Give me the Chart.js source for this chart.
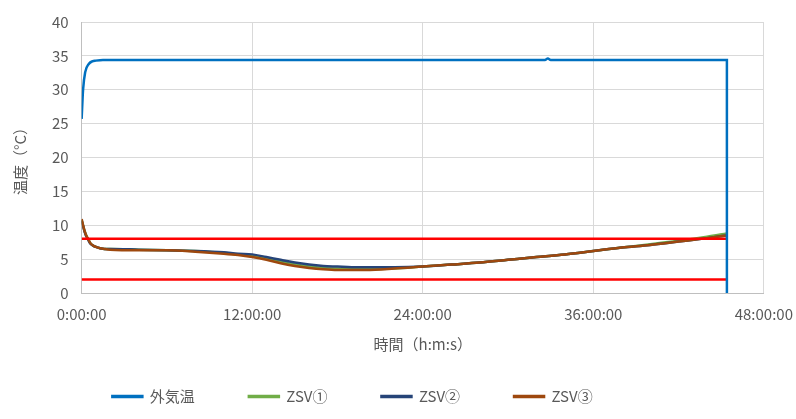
<!DOCTYPE html>
<html>
<head>
<meta charset="utf-8">
<script src="https://cdn.jsdelivr.net/npm/chart.js@4"></script>
<style>
  body { margin: 0; background: #fff; }
  #wrap { width: 796px; height: 419px; }
</style>
</head>
<body>
<div id="wrap"><canvas id="tempChart"></canvas></div>
<script>
// elapsed time in hours
const outsideHours = [0, 0.1, 0.25, 0.5, 0.75, 1, 1.5, 2, 3, 10, 20, 30, 32.6, 32.8, 33.0, 40, 45.4, 45.4];
const outsideTemp  = [25.7, 30.0, 32.6, 33.8, 34.2, 34.3, 34.4, 34.4, 34.4, 34.4, 34.4, 34.4, 34.4, 34.6, 34.4, 34.4, 34.4, 0];

const zsvHours = [0, 0.1, 0.2, 0.3, 0.45, 0.6, 0.8, 1.0, 1.3, 1.6, 2, 4, 6, 8, 10, 11, 12, 13, 14, 15, 16, 17, 18, 19, 20, 22, 24, 26, 28, 30, 32, 34, 36, 38, 40, 42, 44, 45.4];
const zsv1 = [10.8, 10.0, 9.2, 8.6, 8.0, 7.4, 7.0, 6.8, 6.6, 6.5, 6.5, 6.4, 6.3, 6.2, 5.9, 5.7, 5.5, 5.1, 4.6, 4.2, 3.9, 3.7, 3.6, 3.5, 3.5, 3.6, 3.9, 4.2, 4.5, 4.9, 5.3, 5.7, 6.2, 6.7, 7.2, 7.7, 8.3, 8.8];
const zsv2 = [10.7, 9.9, 9.1, 8.5, 7.9, 7.3, 7.0, 6.8, 6.6, 6.5, 6.5, 6.4, 6.3, 6.2, 6.0, 5.8, 5.7, 5.3, 4.9, 4.5, 4.2, 4.0, 3.9, 3.8, 3.8, 3.8, 3.9, 4.2, 4.5, 4.9, 5.3, 5.7, 6.2, 6.7, 7.1, 7.6, 8.1, 8.5];
const zsv3 = [10.9, 10.0, 9.2, 8.6, 8.0, 7.4, 7.0, 6.8, 6.6, 6.5, 6.4, 6.3, 6.3, 6.1, 5.8, 5.6, 5.3, 4.9, 4.4, 4.0, 3.7, 3.5, 3.4, 3.4, 3.4, 3.6, 3.9, 4.2, 4.5, 4.9, 5.3, 5.7, 6.2, 6.7, 7.1, 7.6, 8.1, 8.5];

const limitHours = [0, 45.4];
const upperLimit = [8, 8];
const lowerLimit = [2, 2];

const xTicks = ['0:00:00', '12:00:00', '24:00:00', '36:00:00', '48:00:00'];

function pts(xs, ys) {
  return xs.map((x, i) => ({ x: x, y: ys[i] }));
}

const tickColor = '#595959';
const jpFont = '"Noto Sans CJK JP", "Noto Sans", sans-serif';

// legend sits a bit left of centre in the original, and its wide item
// spacing should not eat the room under the x axis
const legendPlace = {
  id: 'legendPlace',
  afterLayout(chart) {
    const lg = chart.legend;
    lg.top = 389 - lg.options.labels.padding;
    lg.right -= 94;
    lg.width = lg.right - lg.left;
  }
};

const tempChart = new Chart(document.getElementById('tempChart'), {
  type: 'line',
  data: {
    datasets: [
      // lower order is drawn on top
      { label: '外気温', data: pts(outsideHours, outsideTemp), borderColor: '#0070C0', backgroundColor: '#0070C0', borderWidth: 2.5, order: 0 },
      { label: 'ZSV①', data: pts(zsvHours, zsv1), borderColor: '#70AD47', backgroundColor: '#70AD47', borderWidth: 2.5, order: 4 },
      { label: 'ZSV②', data: pts(zsvHours, zsv2), borderColor: '#264478', backgroundColor: '#264478', borderWidth: 2.5, order: 3 },
      { label: 'ZSV③', data: pts(zsvHours, zsv3), borderColor: '#9E480E', backgroundColor: '#9E480E', borderWidth: 2.5, order: 2 },
      { label: 'upper', data: pts(limitHours, upperLimit), borderColor: '#FF0000', backgroundColor: '#FF0000', borderWidth: 2.5, order: 1 },
      { label: 'lower', data: pts(limitHours, lowerLimit), borderColor: '#FF0000', backgroundColor: '#FF0000', borderWidth: 2.5, order: 1 }
    ]
  },
  plugins: [legendPlace],
  options: {
    responsive: true,
    maintainAspectRatio: false,
    animation: false,
    elements: {
      point: { radius: 0 },
      line: { cubicInterpolationMode: 'monotone' }
    },
    layout: {
      padding: { top: 12, right: 2, left: 5, bottom: 4 }
    },
    scales: {
      x: {
        type: 'linear',
        min: 0,
        max: 48,
        ticks: {
          stepSize: 12,
          color: tickColor,
          padding: 3,
          font: { size: 15, family: jpFont },
          maxRotation: 0,
          callback: (v) => xTicks[v / 12]
        },
        grid: { color: '#D9D9D9', drawTicks: true, tickLength: 9, tickColor: 'rgba(0,0,0,0)' },
        border: { color: '#BFBFBF' },
        title: {
          display: true,
          text: '時間（h:m:s）',
          color: tickColor,
          padding: { top: 9, bottom: 22 },
          font: { size: 15, family: jpFont }
        }
      },
      y: {
        min: 0,
        max: 40,
        ticks: {
          stepSize: 5,
          color: tickColor,
          padding: 13,
          font: { size: 15, family: jpFont }
        },
        grid: { color: '#D9D9D9', drawTicks: false },
        border: { color: '#BFBFBF' },
        title: {
          display: true,
          text: '温度（°C）',
          color: tickColor,
          padding: { top: 6, bottom: 10 },
          font: { size: 15, family: jpFont }
        }
      }
    },
    plugins: {
      legend: {
        position: 'bottom',
        maxHeight: 40,
        labels: {
          filter: (item) => item.datasetIndex < 4,
          sort: (a, b) => a.datasetIndex - b.datasetIndex,
          boxWidth: 30,
          boxHeight: 1,
          padding: 54,
          color: tickColor,
          font: { size: 15, family: jpFont }
        }
      },
      tooltip: { enabled: false }
    }
  }
});
</script>
</body>
</html>
